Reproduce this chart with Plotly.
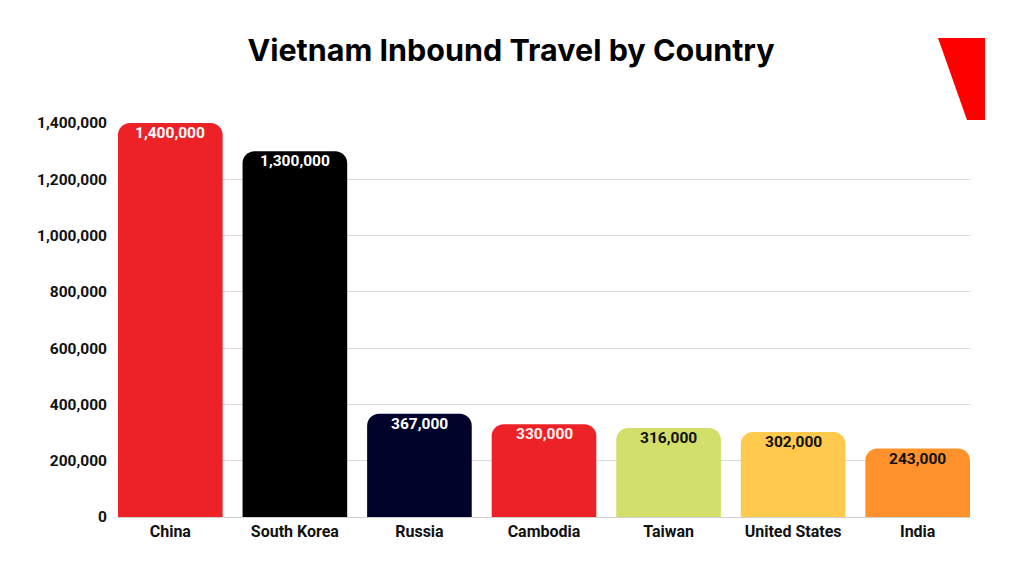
import plotly.graph_objects as go

countries = ["China", "South Korea", "Russia", "Cambodia", "Taiwan", "United States", "India"]
visitors = [1400000, 1300000, 367000, 330000, 316000, 302000, 243000]
bar_colors = ["#EC2227", "#000000", "#02032A", "#EC2227", "#D2DF6A", "#FFC94E", "#FF912C"]
label_colors = ["#FFFFFF", "#FFFFFF", "#FFFFFF", "#FFF0F0", "#111111", "#111111", "#111111"]
y_ticks = [0, 200000, 400000, 600000, 800000, 1000000, 1200000, 1400000]
y_tick_labels = ["0", "200,000", "400,000", "600,000", "800,000", "1,000,000", "1,200,000", "1,400,000"]

W, H = 1024, 576
OFF = 8  # page body margin offset
# target plot area in screenshot pixels
PL, PR, PT, PB = 118, 970, 123, 517
L, T = PL - OFF, PT - OFF
R = W - (PR - OFF)
B = H - (PB - OFF)

fig = go.Figure(go.Bar(
    x=countries,
    y=visitors,
    marker=dict(color=bar_colors, line=dict(width=0), cornerradius=12),
    hoverinfo="skip",
))

def px(x):
    return (x - PL) / (PR - PL)

def py(y):
    return (PB - y) / (PB - PT)

shape_path = "M {} {} L {} {} L {} {} L {} {} Z".format(
    px(938), py(38), px(985), py(38), px(985), py(120), px(967), py(120))

annotations = [
    dict(
        x=c, y=v, xref="x", yref="y",
        text=f"{v:,}", showarrow=False,
        xanchor="center", yanchor="middle", yshift=-10,
        font=dict(family="Roboto", size=15.5, weight=700, color=col),
    )
    for c, v, col in zip(countries, visitors, label_colors)
]

fig.update_layout(
    width=W, height=H,
    margin=dict(l=L, r=R, t=T, b=B),
    paper_bgcolor="white",
    plot_bgcolor="white",
    bargap=0.16,
    showlegend=False,
    title=dict(
        text="Vietnam Inbound Travel by Country",
        x=(511 - OFF) / W, xanchor="center", xref="container",
        y=1 - (50 - OFF) / H, yanchor="middle", yref="container",
        font=dict(family="Inter", size=30.5, weight=700, color="#000000"),
    ),
    xaxis=dict(
        range=[-0.42, 6.42],
        showgrid=False,
        showline=False,
        ticks="",
        ticklabelstandoff=3,
        tickfont=dict(family="Roboto", size=16, weight=700, color="#111111"),
    ),
    yaxis=dict(
        range=[0, 1400000],
        tickvals=y_ticks,
        ticktext=y_tick_labels,
        showgrid=True,
        gridcolor="#D9D9D9",
        gridwidth=1,
        zeroline=True,
        zerolinecolor="#D0D0D0",
        zerolinewidth=1,
        ticks="",
        ticklabelstandoff=10,
        tickfont=dict(family="Roboto", size=15.5, weight=700, color="#111111"),
    ),
    annotations=annotations,
    shapes=[dict(
        type="path", path=shape_path, xref="paper", yref="paper",
        fillcolor="#FF0000", line=dict(width=0), layer="above",
    )],
)

fig.write_html("out.html")
